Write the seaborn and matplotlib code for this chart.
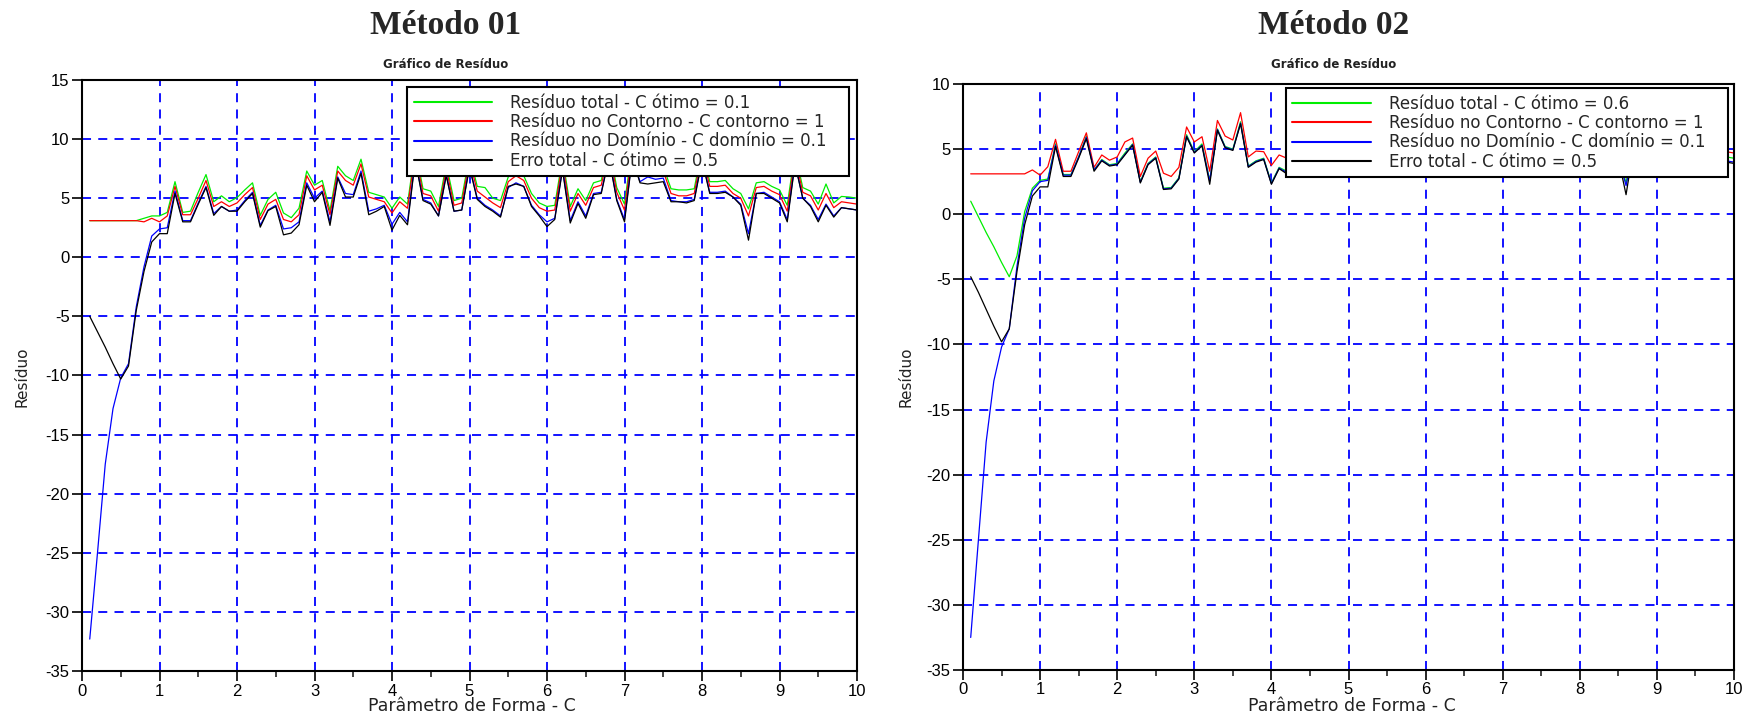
import numpy as np
import pandas as pd
import matplotlib
matplotlib.use("Agg")
import matplotlib.pyplot as plt
import seaborn as sns

# ---------------- data ----------------
C = np.round(np.arange(1, 101) / 10.0, 1)

m1_total = [3.1, 3.1, 3.1, 3.1, 3.1, 3.1, 3.1,
            3.3, 3.5, 3.5, 3.8, 6.4, 3.8, 3.9, 5.5, 7.0, 4.7, 5.2, 4.7, 5.05,
            5.7, 6.3, 3.55, 4.9, 5.5, 3.75, 3.35, 4.15, 7.3, 6.1,
            6.5, 3.95, 7.7, 6.9, 6.5, 8.3, 5.5, 5.3, 5.1, 4.15,
            5.1, 4.5, 9.2, 5.8, 5.6, 4.3, 7.9, 4.8, 5.0, 8.6,
            6.0, 5.9, 5.0, 4.8, 6.8, 7.3, 6.9, 5.4, 4.6, 4.3,
            4.4, 8.4, 4.3, 5.8, 4.8, 6.3, 6.5, 9.4, 5.9, 4.5,
            9.4, 7.4, 7.8, 7.6, 7.7, 5.8, 5.7, 5.7, 5.8, 9.2,
            6.4, 6.4, 6.5, 5.8, 5.4, 4.1, 6.3, 6.4, 6.0, 5.7,
            4.4, 8.9, 5.9, 5.6, 4.5, 6.2, 4.6, 5.15, 5.1, 5.0]
m1_contorno = [3.1, 3.1, 3.1, 3.1, 3.1, 3.1, 3.1,
               3.0, 3.3, 3.0, 3.5, 6.0, 3.6, 3.6, 5.0, 6.5, 4.3, 4.7, 4.3, 4.6,
               5.3, 5.9, 3.2, 4.5, 4.9, 3.2, 3.0, 3.6, 6.9, 5.7,
               6.1, 3.6, 7.3, 6.5, 6.1, 7.9, 5.1, 4.9, 4.7, 3.75,
               4.7, 4.15, 8.8, 5.4, 5.2, 3.9, 7.5, 4.4, 4.6, 8.2,
               5.6, 5.1, 4.6, 4.2, 6.4, 6.9, 6.5, 5.0, 4.2, 3.9,
               4.0, 8.0, 3.9, 5.4, 4.4, 5.9, 6.1, 9.0, 5.5, 4.0,
               9.0, 7.0, 7.4, 7.2, 7.3, 5.4, 5.2, 5.2, 5.4, 8.8,
               6.0, 6.0, 6.1, 5.4, 5.0, 3.5, 5.9, 6.0, 5.6, 5.3,
               3.9, 8.5, 5.5, 5.2, 4.0, 5.4, 4.2, 4.7, 4.6, 4.5]
m1_dominio = [-32.3, -25.0, -17.5, -12.8, -10.2, -9.0, -4.2,
              -0.8, 1.8, 2.4, 2.5, 5.6, 3.1, 3.1, 4.6, 6.0, 3.7, 4.3, 3.9, 4.0,
              4.8, 5.5, 2.7, 4.0, 4.4, 2.4, 2.5, 3.0, 6.3, 5.0,
              5.6, 3.0, 6.8, 5.4, 5.3, 7.3, 3.9, 4.1, 4.4, 2.8,
              3.8, 3.0, 8.3, 4.9, 4.6, 3.5, 7.0, 3.9, 4.0, 7.7,
              5.0, 4.4, 4.0, 3.5, 5.9, 6.3, 6.0, 4.4, 3.6, 3.0,
              3.3, 7.5, 3.1, 4.7, 3.5, 5.4, 5.5, 8.5, 4.9, 3.2,
              8.5, 6.4, 6.8, 6.6, 6.7, 4.8, 4.7, 4.7, 4.9, 8.3,
              5.5, 5.5, 5.6, 5.1, 4.5, 2.0, 5.4, 5.5, 5.1, 4.7,
              3.2, 8.0, 5.0, 4.4, 3.2, 4.5, 3.5, 4.2, 4.1, 4.0]
m1_erro = [-5.0, -6.3, -7.6, -9.0, -10.3, -9.2, -4.5,
           -1.2, 1.3, 2.0, 2.0, 5.4, 3.0, 3.0, 4.5, 5.9, 3.55, 4.3, 3.9, 3.9,
           4.7, 5.4, 2.55, 3.95, 4.3, 1.9, 2.05, 2.75, 6.1, 4.7,
           5.5, 2.7, 6.7, 5.1, 5.1, 7.1, 3.6, 3.9, 4.3, 2.3,
           3.55, 2.75, 8.2, 4.8, 4.5, 3.5, 6.9, 3.9, 4.0, 7.6,
           4.9, 4.3, 3.9, 3.4, 6.0, 6.2, 6.0, 4.3, 3.5, 2.6,
           3.2, 7.4, 2.9, 4.55, 3.3, 5.3, 5.4, 8.4, 4.8, 3.0,
           8.4, 6.3, 6.2, 6.3, 6.4, 4.7, 4.7, 4.6, 4.8, 8.2,
           5.4, 5.4, 5.5, 5.1, 4.4, 1.45, 5.4, 5.4, 5.0, 4.6,
           3.0, 7.9, 5.0, 4.3, 3.0, 4.4, 3.4, 4.2, 4.1, 4.0]

m2_total = [1.0, -0.2, -1.4, -2.5, -3.7, -4.8, -3.2,
            0.2, 2.0, 2.6, 2.7, 5.4, 3.05, 3.05, 4.4, 6.0, 3.4, 4.2, 3.8, 3.9,
            4.7, 5.4, 2.5, 3.9, 4.4, 2.0, 2.05, 2.8, 6.1, 4.8,
            5.4, 2.6, 6.55, 5.2, 5.0, 7.1, 3.7, 4.1, 4.3, 2.4,
            3.6, 3.3, 8.3, 4.9, 4.6, 3.6, 7.0, 4.0, 4.1, 7.7,
            5.0, 4.5, 4.1, 3.6, 6.0, 6.3, 6.0, 4.5, 3.7, 3.2,
            3.4, 7.5, 3.3, 4.8, 3.6, 5.4, 5.5, 8.5, 4.9, 3.3,
            8.5, 6.4, 6.8, 6.6, 6.7, 4.9, 4.8, 4.8, 4.9, 8.3,
            5.5, 5.5, 5.6, 5.1, 4.5, 2.4, 5.4, 5.5, 5.1, 4.7,
            3.3, 8.0, 5.0, 4.5, 3.3, 4.6, 3.6, 4.3, 4.4, 4.3]
m2_contorno = [3.1, 3.1, 3.1, 3.1, 3.1, 3.1, 3.1, 3.1,
               3.4, 3.0, 3.65, 5.75, 3.3, 3.3, 4.8, 6.25, 3.6, 4.55, 4.15, 4.4,
               5.55, 5.85, 2.9, 4.3, 4.85, 3.15, 2.9, 3.6, 6.7, 5.55,
               5.95, 3.3, 7.2, 6.0, 5.7, 7.8, 4.4, 4.85, 4.8, 3.75,
               4.55, 4.3, 8.8, 5.4, 5.2, 4.0, 7.5, 4.4, 4.6, 8.2,
               5.6, 5.1, 4.6, 4.2, 6.4, 6.9, 6.5, 5.0, 4.2, 4.0,
               4.1, 8.0, 4.0, 5.4, 4.4, 5.9, 6.1, 9.0, 5.5, 4.1,
               9.0, 7.0, 7.4, 7.2, 7.3, 5.4, 5.2, 5.2, 5.4, 8.8,
               6.0, 6.0, 6.1, 5.4, 5.0, 3.5, 5.9, 6.0, 5.6, 5.3,
               4.0, 8.5, 5.5, 5.2, 4.0, 5.4, 4.2, 4.7, 4.8, 4.7]
m2_dominio = [-32.5, -25.0, -17.5, -12.8, -10.2, -8.8, -4.0,
              -0.3, 1.8, 2.5, 2.6, 5.3, 3.0, 3.0, 4.4, 5.9, 3.4, 4.15, 3.75, 3.85,
              4.6, 5.35, 2.45, 3.85, 4.35, 1.95, 2.0, 2.75, 6.0, 4.75,
              5.3, 2.55, 6.5, 5.15, 4.95, 7.0, 3.65, 4.05, 4.25, 2.35,
              3.55, 3.2, 8.2, 4.8, 4.5, 3.5, 6.9, 3.9, 4.0, 7.6,
              4.9, 4.4, 4.0, 3.5, 5.9, 6.2, 5.9, 4.4, 3.6, 3.1,
              3.3, 7.4, 3.2, 4.7, 3.5, 5.3, 5.4, 8.4, 4.8, 3.2,
              8.4, 6.3, 6.7, 6.5, 6.6, 4.8, 4.7, 4.7, 4.8, 8.2,
              5.4, 5.4, 5.5, 5.0, 4.4, 2.2, 5.3, 5.4, 5.0, 4.6,
              3.2, 7.9, 4.9, 4.4, 3.2, 4.5, 3.5, 4.2, 4.1, 4.0]
m2_erro = [-4.8, -6.0, -7.3, -8.6, -9.8, -8.8, -4.4,
           -0.8, 1.4, 2.1, 2.1, 5.2, 2.9, 2.9, 4.3, 5.8, 3.3, 4.1, 3.7, 3.8,
           4.55, 5.3, 2.4, 3.8, 4.3, 1.9, 1.95, 2.7, 5.95, 4.7,
           5.25, 2.3, 6.45, 5.1, 4.9, 6.95, 3.6, 4.0, 4.2, 2.3,
           3.5, 3.1, 8.1, 4.7, 4.4, 3.4, 6.8, 3.8, 3.9, 7.5,
           4.8, 4.3, 3.9, 3.4, 5.8, 6.1, 5.8, 4.3, 3.5, 3.1,
           3.2, 7.3, 3.1, 4.6, 3.4, 5.2, 5.3, 8.3, 4.7, 3.1,
           8.3, 6.2, 6.6, 6.4, 6.5, 4.7, 4.6, 4.6, 4.7, 8.1,
           5.3, 5.3, 5.4, 4.9, 4.3, 1.5, 5.2, 5.3, 4.9, 4.5,
           3.1, 7.8, 4.8, 4.3, 3.1, 4.4, 3.4, 4.1, 4.0, 3.9]

titles = ["Método 01", "Método 02"]
subtitle = "Gráfico de Resíduo"
xlabel = "Parâmetro de Forma - C"
ylabel = "Resíduo"
labels_m1 = ["Resíduo total - C ótimo = 0.1",
             "Resíduo no Contorno - C contorno = 1",
             "Resíduo no Domínio - C domínio = 0.1",
             "Erro total - C ótimo = 0.5"]
labels_m2 = ["Resíduo total - C ótimo = 0.6",
             "Resíduo no Contorno - C contorno = 1",
             "Resíduo no Domínio - C domínio = 0.1",
             "Erro total - C ótimo = 0.5"]
xticks = list(range(0, 11))
yticks_m1 = list(range(-35, 16, 5))
yticks_m2 = list(range(-35, 11, 5))

colors = ["#00ee00", "#ff0000", "#0000ff", "#000000"]

# ---------------- figure ----------------
sns.set_style("white")
plt.rcParams['font.family'] = ['DejaVu Sans']
plt.rcParams['axes.unicode_minus'] = False

W, H = 1747, 719
fig = plt.figure(figsize=(W / 100, H / 100), dpi=100)

def ax_rect(l, r, t, b):
    return [l / W, 1 - b / H, (r - l) / W, (b - t) / H]

ax1 = fig.add_axes(ax_rect(82, 857, 80, 671))
ax2 = fig.add_axes(ax_rect(963, 1734, 84, 670))

panels = [
    (ax1, 0, [m1_total, m1_contorno, m1_dominio, m1_erro], labels_m1, yticks_m1,
     (0.99, 0.988), (15, -35), 446, 472, 22),
    (ax2, 1, [m2_total, m2_contorno, m2_dominio, m2_erro], labels_m2, yticks_m2,
     (0.992, 0.993), (10, -35), 1334, 1352, 906),
]

for ax, k, series, labels, yt, lpos, ylim, tcx, xlx, ylx in panels:
    for vals, col, lab in zip(series, colors, labels):
        df = pd.DataFrame({"C": C, "R": vals})
        sns.lineplot(data=df, x="C", y="R", color=col, label=lab + "   ",
                     ax=ax, linewidth=0.9, estimator=None, sort=False)
    ax.set_xlim(0, 10)
    ax.set_ylim(ylim[1], ylim[0])
    ax.set_xticks(xticks)
    ax.set_xticks(np.arange(0.5, 10, 1.0), minor=True)
    ax.set_yticks(yt)
    ax.grid(True, which="major", color="#0000ff", linestyle=(0, (5, 4)),
            linewidth=1.3)
    ax.set_axisbelow(True)
    for s in ax.spines.values():
        s.set_color("black")
        s.set_linewidth(1.5)
    ax.tick_params(axis="both", which="major", direction="out", length=7,
                   width=1.2, labelsize=12, colors="black", pad=2)
    ax.tick_params(axis="x", which="minor", direction="out", length=4,
                   width=1.2, bottom=True)
    ax.tick_params(axis="x", which="major", bottom=True, top=False)
    ax.tick_params(axis="y", which="major", left=True, right=False)
    for lbl in ax.get_xticklabels() + ax.get_yticklabels():
        lbl.set_fontfamily("Liberation Sans")
    ax.set_xlabel("")
    ax.set_ylabel("")
    leg = ax.legend(loc="upper right", bbox_to_anchor=lpos, borderaxespad=0,
                    fontsize=12, handlelength=4.7, handletextpad=1.1,
                    labelspacing=0.08, borderpad=0.4, fancybox=False,
                    framealpha=1, edgecolor="black")
    leg.get_frame().set_linewidth(1.5)
    for h in leg.get_lines():
        h.set_linewidth(1.5)
    leg.set_zorder(10)

    fig.text(tcx / W, 1 - 25 / H, titles[k],
             ha="center", va="center", fontsize=24, fontweight="bold",
             family="Liberation Serif")
    fig.text(tcx / W, 1 - 64 / H, subtitle, ha="center", va="center",
             fontsize=8.5, fontweight="bold", color="#222222")
    fig.text(xlx / W, 1 - 706 / H, xlabel, ha="center", va="center",
             fontsize=12.5, color="#222222")
    fig.text(ylx / W, 1 - 377 / H, ylabel, ha="center", va="center",
             fontsize=11, rotation=90, color="#222222")

fig.savefig("out.png", dpi=100, facecolor="white")
